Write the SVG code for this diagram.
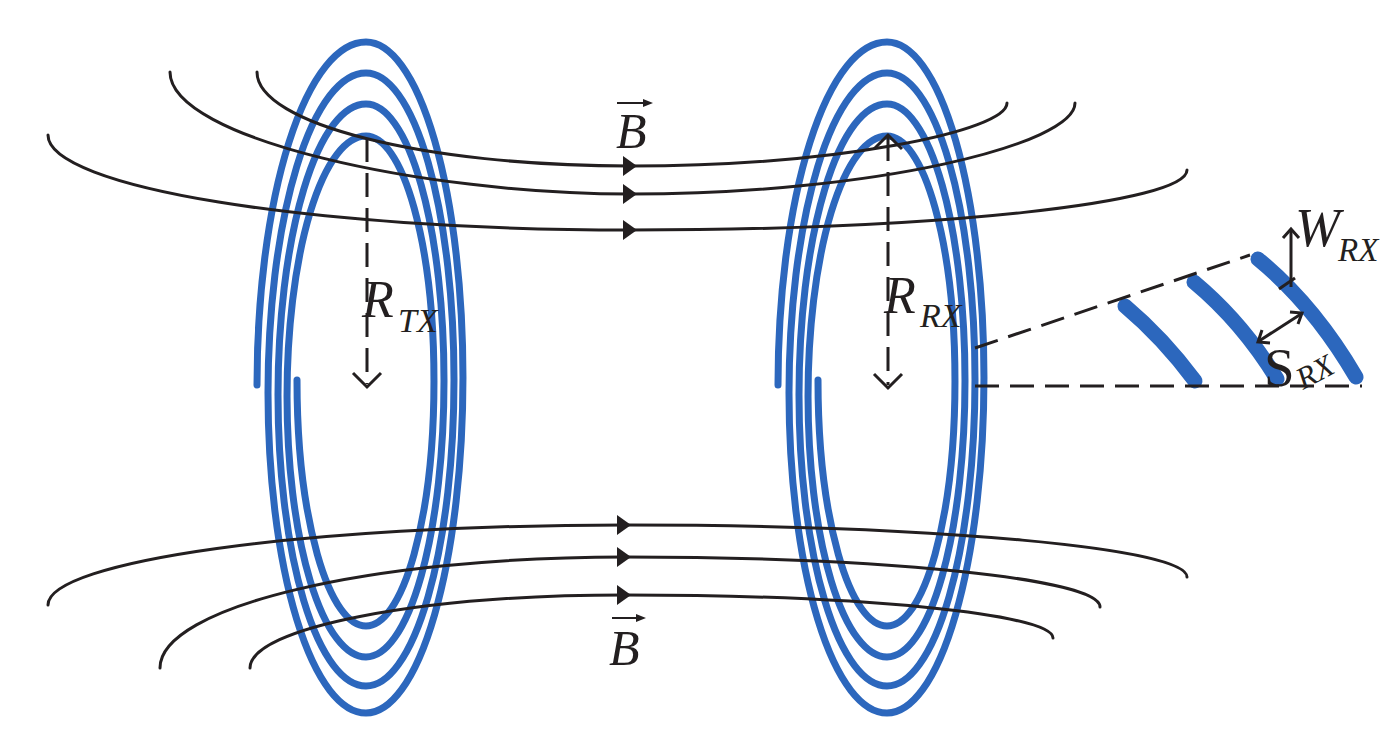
<svg xmlns="http://www.w3.org/2000/svg" width="1400" height="730" viewBox="0 0 1400 730">
<style>
.coil{fill:none;stroke:#2C67BD;stroke-width:7;stroke-linecap:round}
.strip{fill:none;stroke:#2C67BD;stroke-width:15;stroke-linecap:round}
.field{fill:none;stroke:#231F20;stroke-width:3;stroke-linecap:round}
.dash{fill:none;stroke:#231F20;stroke-width:3;stroke-dasharray:24 11}
.solid{fill:none;stroke:#231F20;stroke-width:3}
.head{fill:none;stroke:#231F20;stroke-width:3;stroke-linejoin:miter}
.tri{fill:#231F20}
.lbl{font-family:"Liberation Serif","Times New Roman",serif;fill:#231F20;font-style:italic}
</style>
<defs>
<path id="coilpath" d="M257,385 A109,343 0 0 1 366,42 A97,335.5 0 0 1 366,713 A98,320 0 0 1 366,73 A88,306.5 0 0 1 366,686 A88,291 0 0 1 366,104 A78,276.5 0 0 1 366,657 A79,260.5 0 0 1 366,136 A68,245 0 0 1 366,626 A69,246 0 0 1 297,380"/>
<polygon id="tri" points="-14,-10 0,0 -14,10"/>
</defs>
<rect width="1400" height="730" fill="#fff"/>
<g id="coil-tx"><use href="#coilpath" class="coil"/></g>
<g id="coil-rx"><use href="#coilpath" class="coil" transform="translate(521,0)"/></g>
<g id="strips">
<path class="strip" d="M1125,306 Q1163,338 1195,381"/>
<path class="strip" d="M1194,282 Q1242,322 1277,379"/>
<path class="strip" d="M1258,259 Q1314,305 1356,377"/>
</g>
<g id="connectors">
<path class="field" d="M257,72 C257,124 424,166 630,166 C838,166 1007,131 1007,103"/>
<path class="field" d="M170,72 C170,139 424,194 630,194 C876,194 1075,144 1075,103"/>
<path class="field" d="M48,135 C48,187 309,230 630,230 C938,230 1187,203 1187,170"/>
<path class="field" d="M48,605 C48,561 306,525 625,525 C935,525 1187,548 1187,577"/>
<path class="field" d="M160,668 C160,607 368,557 625,557 C887,557 1100,579 1100,607"/>
<path class="field" d="M250,668 C250,628 418,595 625,595 C861,595 1053,614 1053,638"/>
<use href="#tri" class="tri" transform="translate(637,166)"/>
<use href="#tri" class="tri" transform="translate(637,194)"/>
<use href="#tri" class="tri" transform="translate(637,230)"/>
<use href="#tri" class="tri" transform="translate(631,525)"/>
<use href="#tri" class="tri" transform="translate(631,557)"/>
<use href="#tri" class="tri" transform="translate(631,595)"/>
</g>
<g id="r-tx">
<line class="dash" x1="367" y1="138" x2="367" y2="384"/>
<polyline class="head" points="353,373 367,387 381,373"/>
<text class="lbl" x="362" y="317" font-size="52">R</text>
<text class="lbl" x="398" y="332" font-size="34">TX</text>
</g>
<g id="r-rx">
<line class="dash" x1="888" y1="137" x2="888" y2="385"/>
<polyline class="head" points="874,149 888,135 902,149"/>
<polyline class="head" points="874,374 888,388 902,374"/>
<text class="lbl" x="884" y="313" font-size="52">R</text>
<text class="lbl" x="920" y="327" font-size="34">RX</text>
</g>
<g id="geometry">
<line class="dash" x1="975" y1="348" x2="1250" y2="255"/>
<line class="dash" x1="975" y1="386" x2="1362" y2="386"/>
</g>
<g id="w-rx">
<line class="solid" x1="1291" y1="287" x2="1291" y2="230"/>
<polyline class="head" points="1283,238 1291,229 1299,238"/>
<line class="solid" x1="1279" y1="289" x2="1295" y2="278"/>
<text class="lbl" x="1295" y="246" font-size="54">W</text>
<text class="lbl" x="1338" y="261" font-size="33">RX</text>
</g>
<g id="s-rx">
<line class="solid" x1="1259" y1="341" x2="1301" y2="314"/>
<polyline class="head" points="1262,330 1258,342 1270,343"/>
<polyline class="head" points="1290,312 1302,313 1298,324"/>
<text x="1264" y="386" font-size="55" style="font-family:'Liberation Serif','Times New Roman',serif;fill:#231F20">S</text>
<text class="lbl" x="1303" y="390" font-size="31" transform="rotate(-28 1303 390)">RX</text>
</g>
<g id="b-top">
<line class="solid" x1="617" y1="103" x2="645" y2="103" style="stroke-width:2"/>
<polygon class="tri" points="643,99 653,103 643,107"/>
<text class="lbl" x="616" y="148" font-size="50">B</text>
</g>
<g id="b-bottom">
<line class="solid" x1="612" y1="618" x2="638" y2="618" style="stroke-width:2"/>
<polygon class="tri" points="636,614 646,618 636,622"/>
<text class="lbl" x="609" y="665" font-size="50">B</text>
</g>
</svg>
